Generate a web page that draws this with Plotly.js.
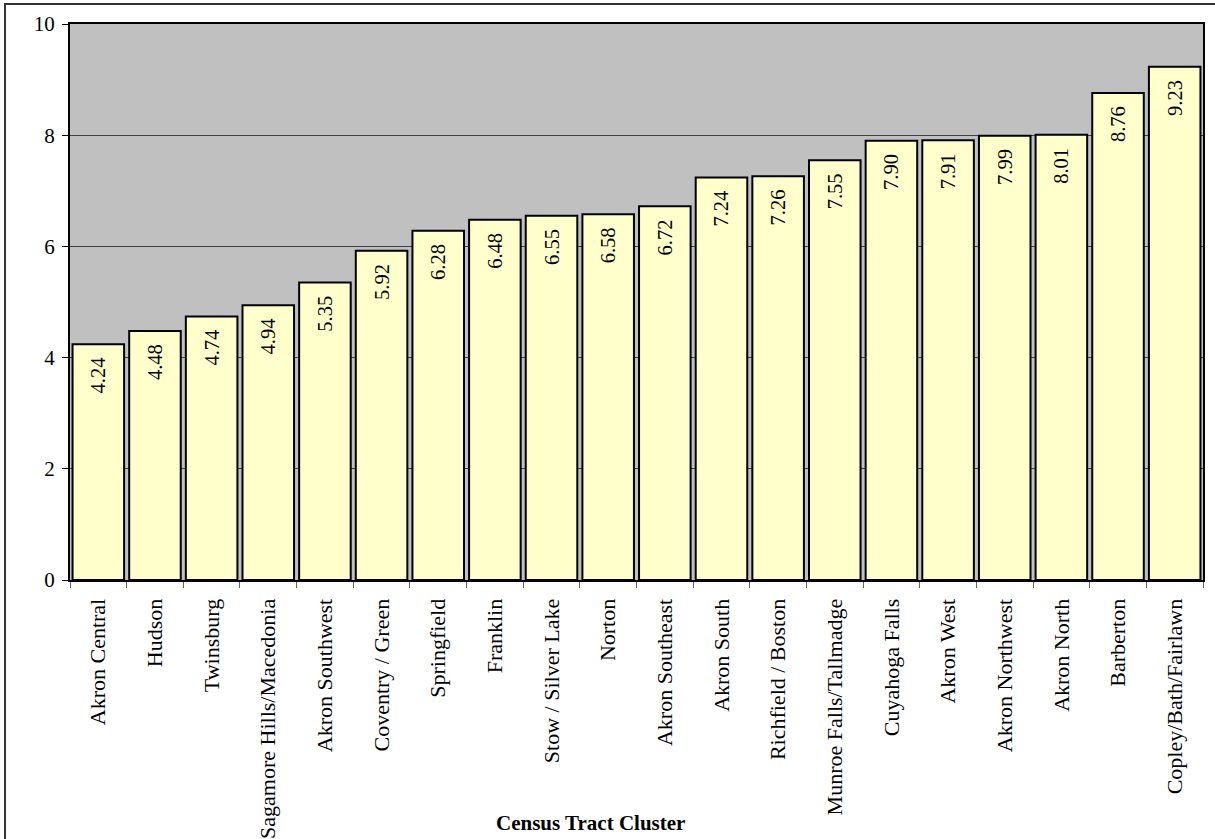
<!DOCTYPE html>
<html>
<head>
<meta charset="utf-8">
<script src="https://cdn.plot.ly/plotly-3.0.1.min.js"></script>
<style>
html,body{margin:0;padding:0;background:#fff;}
#wrap{position:relative;width:1215px;height:839px;}
#frame{position:absolute;left:4px;top:3px;width:1215px;height:840px;border-left:2px solid #333;border-top:2px solid #333;pointer-events:none;}
#chart{position:absolute;left:0;top:0;width:1215px;height:839px;}
</style>
</head>
<body>
<div id="wrap"><div id="chart"></div><div id="frame"></div></div>
<script>
const categories = ["Akron Central","Hudson","Twinsburg","Sagamore Hills/Macedonia","Akron Southwest","Coventry / Green","Springfield","Franklin","Stow / Silver Lake","Norton","Akron Southeast","Akron South","Richfield / Boston","Munroe Falls/Tallmadge","Cuyahoga Falls","Akron West","Akron Northwest","Akron North","Barberton","Copley/Bath/Fairlawn"];
const values = [4.24,4.48,4.74,4.94,5.35,5.92,6.28,6.48,6.55,6.58,6.72,7.24,7.26,7.55,7.90,7.91,7.99,8.01,8.76,9.23];
const yTicks = [0,2,4,6,8,10];
const xTitle = "Census Tract Cluster";

const font = "'Liberation Serif', 'Times New Roman', serif";
const trace = {
  type: "bar",
  x: categories,
  y: values,
  text: values.map(v => v.toFixed(2) + "  "),
  textposition: "inside",
  insidetextanchor: "end",
  textangle: -90,
  constraintext: "none",
  textfont: {family: font, size: 20.5, color: "#000"},
  marker: {color: "#ffffcc", line: {color: "#000", width: 2}},
  hoverinfo: "x+y"
};
const layout = {
  width: 1215, height: 839,
  margin: {l: 70, r: 12, t: 24, b: 259},
  paper_bgcolor: "rgba(0,0,0,0)",
  plot_bgcolor: "#c0c0c0",
  bargap: 0.09,
  showlegend: false,
  font: {family: font, size: 20, color: "#000"},
  xaxis: {
    type: "category",
    tickangle: -90,
    tickson: "boundaries",
    ticks: "outside", ticklen: 6, tickcolor: "#666", tickwidth: 1,
    ticklabelstandoff: 8,
    showline: true, linecolor: "#000", linewidth: 2, mirror: true,
    showgrid: false,
    tickfont: {family: font, size: 22, color: "#000"}
  },
  yaxis: {
    range: [0, 10],
    tickvals: yTicks,
    ticktext: yTicks.map(String),
    ticks: "outside", ticklen: 6, tickcolor: "#000", tickwidth: 1,
    ticklabelstandoff: 3,
    showline: true, linecolor: "#000", linewidth: 2, mirror: true,
    showgrid: true, gridcolor: "#404040", gridwidth: 1,
    zeroline: false,
    tickfont: {family: font, size: 21, color: "#000"}
  },
  annotations: [{
    text: "<b>" + xTitle + "</b>",
    xref: "paper", yref: "paper",
    x: 0.459, y: -0.437, xanchor: "center", yanchor: "middle",
    showarrow: false,
    font: {family: font, size: 21, color: "#000"}
  }]
};
Plotly.newPlot("chart", [trace], layout, {displayModeBar: false, staticPlot: true});
</script>
</body>
</html>
